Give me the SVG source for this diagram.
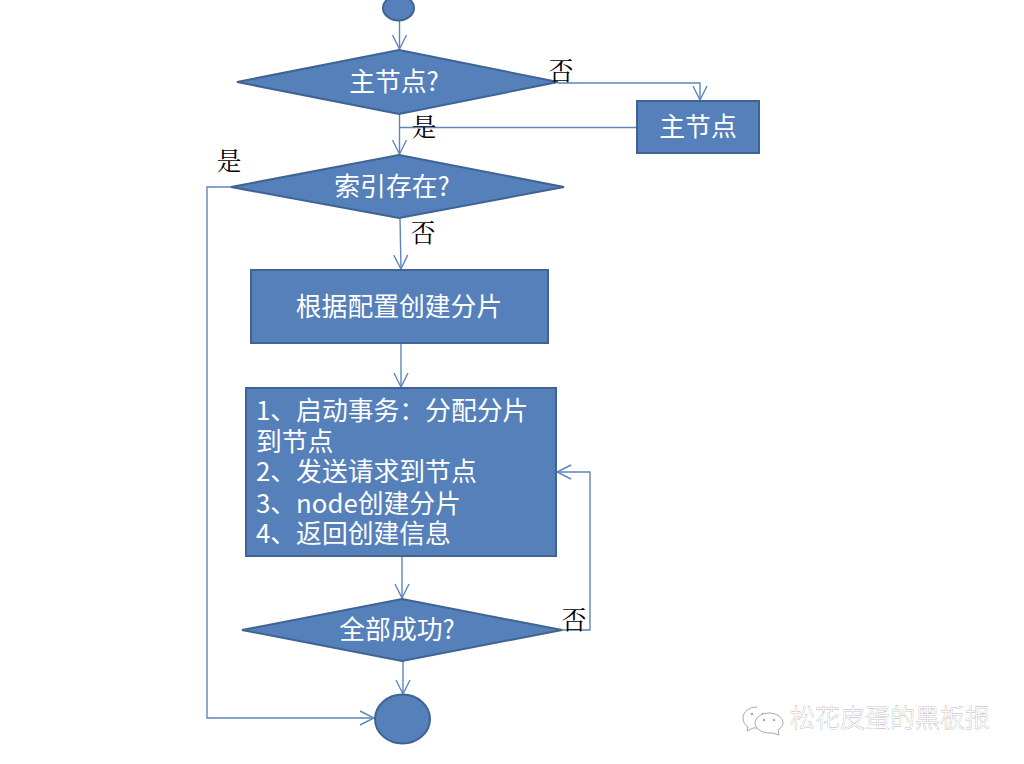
<svg xmlns="http://www.w3.org/2000/svg" width="1024" height="764" viewBox="0 0 1024 764">
<style>
.s{fill:#5580ba;stroke:#3f6493;stroke-width:2}
.c{fill:none;stroke:#5e86bd;stroke-width:1.4}
.w{fill:#fff;font-family:"Noto Sans CJK SC","Noto Sans",sans-serif;font-size:25.800px}
.m{text-anchor:middle}
.k{fill:#000;font-family:"Noto Serif CJK SC","Noto Sans CJK SC",sans-serif;font-size:25px;text-anchor:middle}
.f{fill:#fff;stroke:#8c8c8c;stroke-width:.5;paint-order:stroke;font-family:"Noto Sans CJK SC",sans-serif;font-size:25px;font-weight:300}
.i{fill:#fff;stroke:#a8a8a8;stroke-width:1}
.e{fill:#a8a8a8}
</style>
<defs>
<marker id="a" viewBox="0 0 16 16" markerWidth="16" markerHeight="16" refX="15" refY="8" orient="auto" markerUnits="userSpaceOnUse"><path d="M1 1L15 8L1 15" fill="none" stroke="#5e86bd" stroke-width="1.4"/></marker>
</defs>
<rect width="1024" height="764" fill="#fff"/>
<g id="connectors">
<path class="c" d="M399.500 21V49" marker-end="url(#a)"/>
<path class="c" d="M558 83H700V100" marker-end="url(#a)"/>
<path class="c" d="M399.500 114V154" marker-end="url(#a)"/>
<path class="c" d="M637 127.500H399.500"/>
<path class="c" d="M400 218L401 269" marker-end="url(#a)"/>
<path class="c" d="M401 344V387" marker-end="url(#a)"/>
<path class="c" d="M402 556V598" marker-end="url(#a)"/>
<path class="c" d="M403 661V694" marker-end="url(#a)"/>
<path class="c" d="M560 630H590V472H557" marker-end="url(#a)"/>
<path class="c" d="M231 187H207V718H374" marker-end="url(#a)"/>
</g>
<g id="start"><ellipse class="s" cx="398.500" cy="8" rx="15.500" ry="12.500"/></g>
<g id="d1"><polygon class="s" points="399,50 558,82 399,114 237,82"/><text class="w m" x="394" y="91">主节点?</text></g>
<g id="master"><rect class="s" x="637" y="101" width="122" height="52"/><text class="w m" x="698" y="136">主节点</text></g>
<g id="d2"><polygon class="s" points="399,155 564,187 399,218 231,187"/><text class="w m" x="392" y="196">索引存在?</text></g>
<g id="create"><rect class="s" x="251" y="270" width="297" height="73"/><text class="w m" x="399" y="316">根据配置创建分片</text></g>
<g id="steps"><rect class="s" x="246" y="388" width="310" height="168"/>
<text class="w"><tspan x="256" y="420">1、启动事务：分配分片</tspan><tspan x="256" y="451">到节点</tspan><tspan x="256" y="481">2、发送请求到节点</tspan><tspan x="256" y="513">3、node创建分片</tspan><tspan x="256" y="543">4、返回创建信息</tspan></text></g>
<g id="d3"><polygon class="s" points="402,599 562,630 402,661 242,630"/><text class="w m" x="397" y="639">全部成功?</text></g>
<g id="end"><ellipse class="s" cx="402.500" cy="719" rx="27.500" ry="24.500"/></g>
<g id="labels">
<text class="k" x="561" y="80">否</text>
<text class="k" x="424" y="136">是</text>
<text class="k" x="229" y="170">是</text>
<text class="k" x="423" y="242">否</text>
<text class="k" x="574" y="629">否</text>
</g>
<g id="watermark">
<path class="i" d="M757 707c-8 0-14 5-14 11 0 4 2 7 5 9l-1 4 6-3 4 0"/>
<circle class="e" cx="752" cy="714" r="1.300"/><circle class="e" cx="763" cy="714" r="1.300"/>
<path class="i" d="M769 713c-8 0-14 5-14 10s6 10 14 10h4l6 2-1-5c3-2 5-4 5-7 0-5-6-10-14-10z"/>
<circle class="e" cx="764" cy="720" r="1.200"/><circle class="e" cx="774" cy="720" r="1.200"/>
<text class="f" x="790" y="727">松花皮蛋的黑板报</text>
</g>
</svg>
